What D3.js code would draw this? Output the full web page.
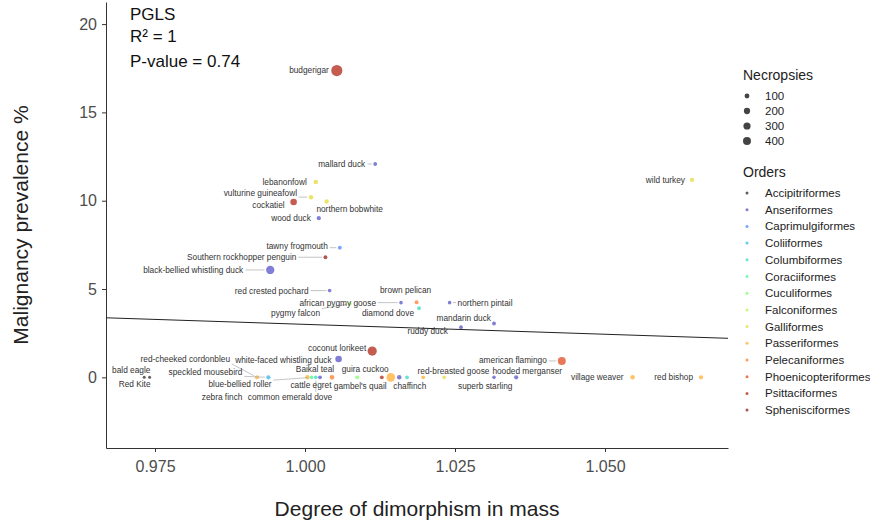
<!DOCTYPE html>
<meta charset="UTF-8">
<style>

body { margin: 0; background: #fff; }

svg { font-family: "Liberation Sans", Arial, sans-serif; }

.axis path, .axis line {
  stroke: #333;
  stroke-width: 1px;
}

.axis text {
  fill: #4d4d4d;
  font-size: 16px;
}

.lab {
  font-size: 8.3px;
  fill: #333;
}

.seg {
  stroke: #aaa;
  stroke-width: 0.7px;
}

</style>

<body>

<script src="https://d3js.org/d3.v7.min.js"></script>
<script>

// orders, in legend order
var orders = ["Accipitriformes", "Anseriformes", "Caprimulgiformes", "Coliiformes",
  "Columbiformes", "Coraciiformes", "Cuculiformes", "Falconiformes", "Galliformes",
  "Passeriformes", "Pelecaniformes", "Phoenicopteriformes", "Psittaciformes", "Sphenisciformes"];

// one entry per species ("" = point without a label)
var species = ["budgerigar", "mallard duck", "lebanonfowl", "vulturine guineafowl",
  "northern bobwhite", "cockatiel", "wood duck", "tawny frogmouth",
  "Southern rockhopper penguin", "black-bellied whistling duck", "red crested pochard",
  "brown pelican", "african pygmy goose", "northern pintail", "diamond dove",
  "pygmy falcon", "mandarin duck", "ruddy duck", "coconut lorikeet",
  "white-faced whistling duck", "american flamingo", "wild turkey", "bald eagle",
  "Red Kite", "red-cheeked cordonbleu", "speckled mousebird", "zebra finch",
  "blue-bellied roller", "common emerald dove", "Baikal teal", "cattle egret",
  "guira cuckoo", "", "chaffinch", "", "", "superb starling", "gambel's quail",
  "red-breasted goose", "hooded merganser", "village weaver", "red bishop"];

var dimorphism = [1.0053, 1.0117, 1.0018, 1.0010, 1.0036, 0.9981, 1.0023, 1.0058,
  1.0034, 0.9942, 1.0041, 1.0186, 1.0160, 1.0241, 1.0190, 1.0075, 1.0315, 1.0260,
  1.0112, 1.0056, 1.0428, 1.0645, 0.9732, 0.9741, 0.9920, 0.9939, 1.0004, 1.0011,
  1.0018, 1.0025, 1.0045, 1.0087, 1.0128, 1.0143, 1.0157, 1.0170, 1.0197, 1.0232,
  1.0315, 1.0352, 1.0546, 1.0660];

var prevalence = [17.37, 12.08, 11.06, 10.20, 9.95, 9.93, 9.01, 7.34, 6.80, 6.08,
  4.91, 4.25, 4.23, 4.23, 3.91, 4.16, 3.05, 2.84, 1.49, 1.04, 0.93, 11.18,
  0, 0, 0, 0, 0, 0, 0, 0, 0, 0, 0, 0, 0, 0, 0, 0, 0, 0, 0, 0];

var necropsies = [1000, 60, 90, 80, 80, 230, 70, 60, 60, 450, 55, 60, 55, 55, 60,
  55, 60, 60, 600, 230, 400, 80, 50, 50, 70, 70, 80, 60, 55, 60, 90, 60, 60, 500,
  80, 60, 60, 55, 55, 70, 80, 70];

var orderOf = ["Psittaciformes", "Anseriformes", "Galliformes", "Galliformes",
  "Galliformes", "Psittaciformes", "Anseriformes", "Caprimulgiformes", "Sphenisciformes",
  "Anseriformes", "Anseriformes", "Pelecaniformes", "Anseriformes", "Anseriformes",
  "Columbiformes", "Falconiformes", "Anseriformes", "Anseriformes", "Psittaciformes",
  "Anseriformes", "Phoenicopteriformes", "Galliformes", "Accipitriformes",
  "Accipitriformes", "Passeriformes", "Coliiformes", "Passeriformes", "Coraciiformes",
  "Columbiformes", "Anseriformes", "Pelecaniformes", "Cuculiformes", "Psittaciformes",
  "Passeriformes", "Anseriformes", "Columbiformes", "Passeriformes", "Galliformes",
  "Anseriformes", "Anseriformes", "Passeriformes", "Passeriformes"];

var necropsyLegend = [100, 200, 300, 400];
var xTicks = [0.975, 1.000, 1.025, 1.050];
var yTicks = [0, 5, 10, 15, 20];

// PGLS fit line
var fitIntercept = 14.2,
    fitSlope = -11.2;
var statLines = ["PGLS", "R\u00b2 = 1", "P-value = 0.74"];

// label placement (repel result): dx, dy from the point, anchor, draw segment
var labelPlacement = {
  "budgerigar": [-8, 0, "end", 0],
  "mallard duck": [-10, 0, "end", 1],
  "lebanonfowl": [-9, 0, "end", 0],
  "vulturine guineafowl": [-14, -4, "end", 1],
  "northern bobwhite": [23, 7.5, "middle", 0],
  "cockatiel": [-9, 3, "end", 0],
  "wood duck": [-8, 0, "end", 0],
  "tawny frogmouth": [-12, -1.5, "end", 1],
  "Southern rockhopper penguin": [-29, 0, "end", 1],
  "black-bellied whistling duck": [-27, 0, "end", 1],
  "red crested pochard": [-21, 0, "end", 1],
  "brown pelican": [-11, -12, "middle", 0],
  "african pygmy goose": [-25, 0, "end", 1],
  "northern pintail": [8, 0, "start", 1],
  "diamond dove": [-5, 5, "end", 0],
  "pygmy falcon": [-30, 9, "end", 1],
  "mandarin duck": [-3, -5.5, "end", 0],
  "ruddy duck": [-13, 4, "end", 0],
  "coconut lorikeet": [-6, -3, "end", 0],
  "white-faced whistling duck": [-7, 1, "end", 0],
  "american flamingo": [-15, -1, "end", 1],
  "wild turkey": [-7, 0, "end", 0],
  "bald eagle": [-13, -7, "middle", 0],
  "Red Kite": [-15, 7, "middle", 0],
  "red-cheeked cordonbleu": [-27, -18, "end", 1],
  "speckled mousebird": [-26, -5, "end", 1],
  "zebra finch": [-65, 20, "end", 0],
  "blue-bellied roller": [-40, 7, "end", 1],
  "common emerald dove": [-68, 20, "start", 1],
  "Baikal teal": [-5, -8, "middle", 0],
  "cattle egret": [-21, 8, "middle", 0],
  "guira cuckoo": [8, -8, "middle", 0],
  "chaffinch": [19, 9, "middle", 0],
  "superb starling": [62, 9, "middle", 0],
  "gambel's quail": [-84, 9, "middle", 0],
  "red-breasted goose": [-40.5, -6, "middle", 0],
  "hooded merganser": [11, -6, "middle", 0],
  "village weaver": [-9, 0, "end", 0],
  "red bishop": [-8, 0, "end", 0]
};

var width = 870, height = 529;

var svg = d3.select("body").append("svg")
    .attr("width", width)
    .attr("height", height);

var x = d3.scaleLinear().domain([0.96683, 1.0705]).range([106, 728]);
var y = d3.scaleLinear().domain([-4, 21.25]).range([448, 2]);

// ggplot-like area size scale
var sizeNorm = d3.scaleLinear().domain([50, 1000]).clamp(true);
var sizeRange = d3.scaleLinear().domain([0, 1]).range([1.5, 5.6]);
function radius(n) { return sizeRange(Math.sqrt(sizeNorm(n))); }

var color = d3.scaleOrdinal()
    .domain(orders)
    .range(orders.map(function(d, i) { return d3.interpolateTurbo(i / (orders.length - 1)); }));

var data = species.map(function(s, i) {
  return { name: s, x: dimorphism[i], y: prevalence[i], n: necropsies[i], order: orderOf[i] };
});

// axes
svg.append("g")
    .attr("class", "axis")
    .attr("transform", "translate(0,448)")
    .call(d3.axisBottom(x).tickValues(xTicks).tickFormat(d3.format(".3f"))
      .tickSizeInner(4).tickSizeOuter(0).tickPadding(9));

svg.append("g")
    .attr("class", "axis")
    .attr("transform", "translate(106,0)")
    .call(d3.axisLeft(y).tickValues(yTicks).tickSizeInner(4).tickSizeOuter(0).tickPadding(5));

svg.append("text")
    .attr("x", 417).attr("y", 516)
    .attr("text-anchor", "middle")
    .style("font-size", "21px").style("fill", "#222")
    .text("Degree of dimorphism in mass");

svg.append("text")
    .attr("transform", "translate(28,225) rotate(-90)")
    .attr("text-anchor", "middle")
    .style("font-size", "21px").style("fill", "#222")
    .text("Malignancy prevalence %");

// fit line
var xd = x.domain();
svg.append("line")
    .attr("x1", x(xd[0])).attr("y1", y(fitIntercept + fitSlope * xd[0]))
    .attr("x2", x(xd[1])).attr("y2", y(fitIntercept + fitSlope * xd[1]))
    .attr("stroke", "#222").attr("stroke-width", 1);

// points, big ones first
var sorted = data.slice().sort(function(a, b) { return b.n - a.n; });
svg.append("g").selectAll("circle")
    .data(sorted)
  .enter().append("circle")
    .attr("cx", function(d) { return x(d.x); })
    .attr("cy", function(d) { return y(d.y); })
    .attr("r", function(d) { return radius(d.n); })
    .attr("fill", function(d) { return color(d.order); })
    .attr("fill-opacity", 0.7);

// labels
var labG = svg.append("g");
data.forEach(function(d) {
  var p = labelPlacement[d.name];
  if (!d.name || !p) return;
  var px = x(d.x), py = y(d.y);
  var t = labG.append("text")
      .attr("class", "lab")
      .attr("x", px + p[0])
      .attr("y", py + p[1])
      .attr("dy", "0.35em")
      .attr("text-anchor", p[2])
      .text(d.name);
  if (p[3]) {
    var b = t.node().getBBox();
    var cx = Math.max(b.x, Math.min(px, b.x + b.width));
    var cy = Math.max(b.y + 1, Math.min(py, b.y + b.height - 1));
    var dx = px - cx, dy = py - cy, len = Math.sqrt(dx * dx + dy * dy);
    var cut = radius(d.n) + 1.5;
    if (len > cut + 1) {
      labG.insert("line", "text")
          .attr("class", "seg")
          .attr("x1", cx + dx / len * 1.5).attr("y1", cy + dy / len * 1.5)
          .attr("x2", px - dx / len * cut).attr("y2", py - dy / len * cut);
    }
  }
});

// stats text
svg.selectAll("text.stat")
    .data(statLines)
  .enter().append("text")
    .attr("class", "stat")
    .attr("x", 130)
    .attr("y", function(d, i) { return 20 + i * 22 + (i == 2 ? 3 : 0); })
    .style("font-size", "17px").style("fill", "#111")
    .text(function(d) { return d; });

// legends
var leg = svg.append("g").attr("transform", "translate(743,0)");

leg.append("text").attr("x", 0).attr("y", 80)
    .style("font-size", "14px").style("fill", "#222").text("Necropsies");

var sizeItems = leg.selectAll("g.size")
    .data(necropsyLegend)
  .enter().append("g")
    .attr("class", "size")
    .attr("transform", function(d, i) { return "translate(0," + (96 + i * 15) + ")"; });
sizeItems.append("circle")
    .attr("cx", 4).attr("r", function(d) { return radius(d); })
    .attr("fill", "#444");
sizeItems.append("text")
    .attr("x", 22).attr("dy", "0.35em")
    .style("font-size", "11.5px").style("fill", "#222")
    .text(function(d) { return d; });

leg.append("text").attr("x", 0).attr("y", 177)
    .style("font-size", "14px").style("fill", "#222").text("Orders");

var ordItems = leg.selectAll("g.ord")
    .data(orders)
  .enter().append("g")
    .attr("class", "ord")
    .attr("transform", function(d, i) { return "translate(0," + (193 + i * 16.7) + ")"; });
ordItems.append("circle")
    .attr("cx", 4).attr("r", 1.5)
    .attr("fill", function(d) { return color(d); })
    .attr("fill-opacity", 0.7);
ordItems.append("text")
    .attr("x", 22).attr("dy", "0.35em")
    .style("font-size", "11.5px").style("fill", "#222")
    .text(function(d) { return d; });

</script>
</body>
